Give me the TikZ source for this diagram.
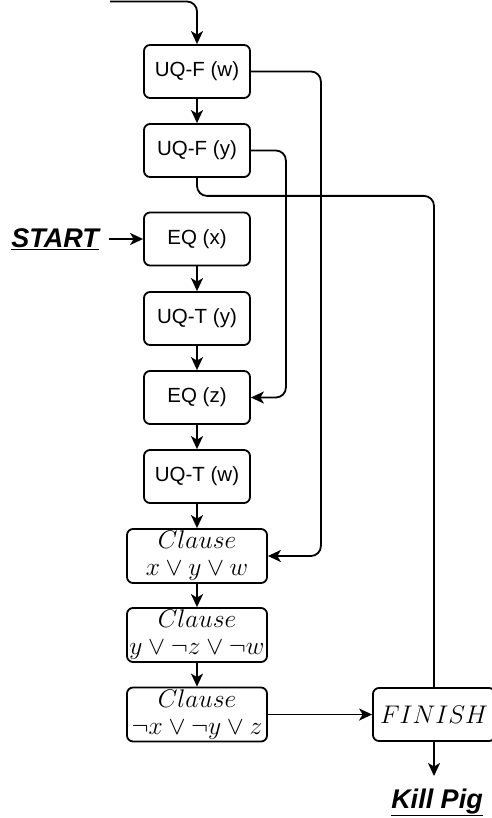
\documentclass[tikz,border=0pt]{standalone}
\usepackage{fix-cm}
\usepackage{fontspec}
\setmainfont{Liberation Sans}
\usetikzlibrary{arrows.meta}
\begin{document}
\begin{tikzpicture}[x=1pt,y=-1pt,
  box/.style={draw, line width=1.8pt, rounded corners=6pt, minimum width=106pt, minimum height=53pt, inner sep=0pt, font=\fontsize{20.5}{24}\selectfont},
  cbox/.style={draw, line width=1.8pt, rounded corners=6pt, minimum width=140pt, minimum height=54pt, inner sep=0pt, align=center, font=\fontsize{25.5}{27}\selectfont},
  lbl/.style={inner sep=0pt, font=\fontsize{27}{30}\selectfont\bfseries\itshape},
  arr/.style={line width=1.8pt, -{Stealth[length=13pt,width=12pt,inset=3.5pt]}},
  ln/.style={line width=1.8pt}]
\useasboundingbox (0,0) rectangle (491,818);
\node[box] (uqfw) at (197,71.5) {UQ-F (w)};
\node[box] (uqfy) at (197,150.5) {UQ-F (y)};
\node[box] (eqx) at (197,239) {EQ (x)};
\node[box] (uqty) at (197,318.5) {UQ-T (y)};
\node[box] (eqz) at (197,397.5) {EQ (z)};
\node[box] (uqtw) at (197,476.5) {UQ-T (w)};
\node[cbox] (c1) at (197,556) {$Clause$\\$x\vee y\vee w$};
\node[cbox] (c2) at (197,635) {$Clause$\\$y\vee \neg z\vee \neg w$};
\node[cbox] (c3) at (197,714.5) {$Clause$\\$\neg x\vee \neg y\vee z$};
\node[cbox, minimum width=122pt, minimum height=53pt] (fin) at (434,714.5) {$FINISH$};
\node[lbl, outer sep=10pt] (start) at (55,239) {\underline{START}};
\node[lbl, anchor=base, outer sep=0pt] (kill) at (437,808) {\underline{Kill Pig}};
\coordinate (topin) at (110,1.5);
\coordinate (killtop) at (434,776);
\draw[arr, rounded corners=10pt] (topin) -| (uqfw.north);
\draw[arr] (uqfw) -- (uqfy);
\draw[arr] (start) -- (eqx);
\draw[arr] (eqx) -- (uqty);
\draw[arr] (uqty) -- (eqz);
\draw[arr] (eqz) -- (uqtw);
\draw[arr] (uqtw) -- (c1);
\draw[arr] (c1) -- (c2);
\draw[arr] (c2) -- (c3);
\draw[arr] (c3) -- (fin);
\draw[arr] (fin.south) -- (killtop);
\draw[arr, rounded corners=10pt] (uqfw.east) -- ++(70,0) |- (c1.east);
\draw[arr, rounded corners=10pt] (uqfy.east) -- ++(35,0) |- (eqz.east);
\draw[ln, rounded corners=10pt] (uqfy.south) -- ++(0,18) -| (fin.north);
\end{tikzpicture}
\end{document}
